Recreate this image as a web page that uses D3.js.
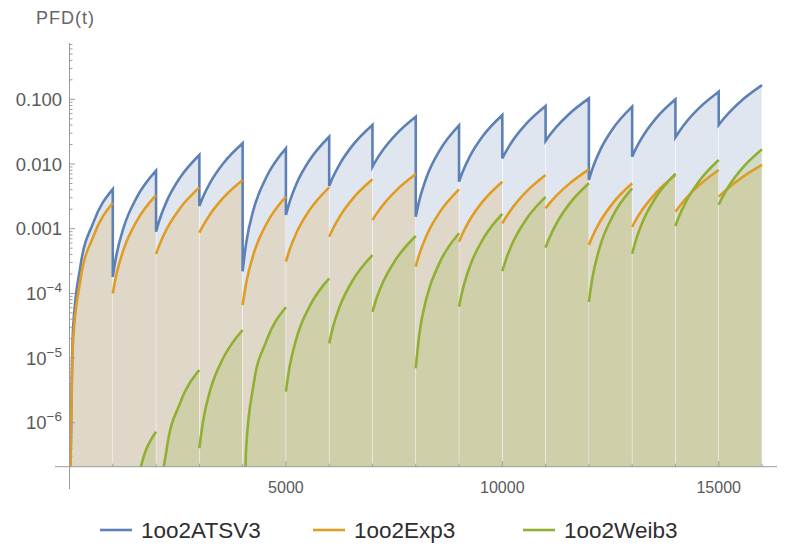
<!DOCTYPE html>
<html>
<head>
<meta charset="utf-8">
<script src="https://cdn.jsdelivr.net/npm/d3@7"></script>
<style>
  html, body { margin: 0; padding: 0; background: #ffffff; }
  svg { display: block; font-family: "Liberation Sans", Arial, Helvetica, sans-serif; }
</style>
</head>
<body>
<svg id="chart" width="792" height="555"></svg>
<script>
// Proof-test interval (hours) and the start of each interval
const testInterval = 1000;
const intervalStarts = [0, 1000, 2000, 3000, 4000, 5000, 6000, 7000, 8000,
                        9000, 10000, 11000, 12000, 13000, 14000, 15000];
// Hours into each interval at which PFD(t) is tabulated
const hoursIntoInterval = [0, 80, 250, 550, 1000];

// PFD(t) per interval, one row per interval, one value per tabulated hour
const atsv3 = [
  [1e-8,    2.72e-5, 2.59e-4, 1.243e-3, 0.0041],
  [1.8e-4,  3.78e-4, 1.042e-3, 3.016e-3, 0.0079],
  [9.0e-4,  1.369e-3, 2.690e-3, 6.101e-3, 0.0138],
  [2.24e-3, 3.037e-3, 5.132e-3, 0.01016, 0.0209],
  [2.2e-4,  5.87e-4, 1.953e-3, 6.31e-3, 0.0175],
  [1.63e-3, 2.514e-3, 5.027e-3, 0.01156, 0.0264],
  [4.57e-3, 6.117e-3, 0.01015, 0.01976, 0.0401],
  [9.08e-3, 0.01128, 0.01676, 0.02905, 0.0538],
  [1.53e-3, 2.692e-3, 6.245e-3, 0.01611, 0.0395],
  [5.33e-3, 7.448e-3, 0.01312, 0.02703, 0.0572],
  [0.01225, 0.01544, 0.02345, 0.04166, 0.0787],
  [0.0227,  0.02701, 0.03741, 0.05990, 0.1035],
  [5.66e-3, 8.354e-3, 0.01581, 0.03474, 0.0769],
  [0.013,   0.01695, 0.02708, 0.05073, 0.100],
  [0.0258,  0.03123, 0.04450, 0.07363, 0.131],
  [0.0401,  0.04701, 0.06353, 0.09872, 0.166]
];

const exp3 = [
  [1e-8,    1.674e-5, 1.581e-4, 7.587e-4, 0.0025],
  [1.0e-4,  1.903e-4, 4.779e-4, 1.303e-3, 0.0033],
  [4.06e-4, 5.673e-4, 9.998e-4, 2.060e-3, 0.00436],
  [8.67e-4, 1.096e-3, 1.672e-3, 2.984e-3, 0.00566],
  [6.6e-5,  1.426e-4, 4.023e-4, 1.182e-3, 0.00312],
  [3.09e-4, 4.603e-4, 8.816e-4, 1.956e-3, 0.00436],
  [7.5e-4,  9.789e-4, 1.567e-3, 2.939e-3, 0.0058],
  [1.36e-3, 1.650e-3, 2.360e-3, 3.920e-3, 0.0070],
  [2.6e-4,  3.973e-4, 7.853e-4, 1.789e-3, 0.00406],
  [6.3e-4,  8.371e-4, 1.375e-3, 2.647e-3, 0.00533],
  [1.21e-3, 1.488e-3, 2.176e-3, 3.706e-3, 0.00676],
  [2.07e-3, 2.414e-3, 3.234e-3, 4.973e-3, 0.00828],
  [5.6e-4,  7.532e-4, 1.259e-3, 2.466e-3, 0.00503],
  [1.07e-3, 1.345e-3, 2.033e-3, 3.593e-3, 0.00676],
  [1.83e-3, 2.166e-3, 2.975e-3, 4.714e-3, 0.00807],
  [3.12e-3, 3.511e-3, 4.417e-3, 6.271e-3, 0.00966]
];

const weib3 = [
  [1e-12,   1e-11,   1e-10,   1.5e-9,   1.5e-8],
  [1e-11,   1e-10,   1e-9,    1.0e-7,   7.3e-7],
  [1e-11,   4.19e-8, 4.09e-7, 1.98e-6,  6.55e-6],
  [4.04e-7, 1.004e-6, 3.171e-6, 9.952e-6, 2.72e-5],
  [1e-10,   3.9e-7,  3.81e-6, 1.845e-5, 6.1e-5],
  [3.03e-6, 7.01e-6, 2.093e-5, 6.361e-5, 1.71e-4],
  [1.69e-5, 2.875e-5, 6.432e-5, 1.616e-4, 3.9e-4],
  [5.2e-5,  7.839e-5, 1.524e-4, 3.425e-4, 7.7e-4],
  [6.95e-6, 2.263e-5, 8.586e-5, 2.966e-4, 8.5e-4],
  [6.2e-5,  1.109e-4, 2.619e-4, 6.840e-4, 1.69e-3],
  [2.2e-4,  3.276e-4, 6.272e-4, 1.391e-3, 3.1e-3],
  [5.1e-4,  6.996e-4, 1.202e-3, 2.418e-3, 5.03e-3],
  [7.4e-5,  1.716e-4, 5.132e-4, 1.561e-3, 4.2e-3],
  [4.1e-4,  6.436e-4, 1.314e-3, 3.075e-3, 7.1e-3],
  [1.1e-3,  1.528e-3, 2.671e-3, 5.462e-3, 0.0115],
  [2.35e-3, 3.025e-3, 4.741e-3, 8.708e-3, 0.0169]
];

const seriesNames = ["1oo2ATSV3", "1oo2Exp3", "1oo2Weib3"];
const seriesColors = ["#5e81b5", "#e19c24", "#8fb032"];

// Axis ticks
const xTickValues = [5000, 10000, 15000];
const xTickLabels = ["5000", "10000", "15000"];
const yTickValues = [0.1, 0.01, 0.001, 1e-4, 1e-5, 1e-6];
const yTickLabels = ["0.100", "0.010", "0.001", "10^-4", "10^-5", "10^-6"];

// ---- layout ----
const svg = d3.select("#chart");
const plotTop = 43, plotBottom = 466.7, plotRight = 777;

const x = d3.scaleLinear().domain([0, 16000]).range([69.5, 762]);
const y = d3.scaleLog().domain([1e-6, 0.1]).range([422.8, 99.3]);
const x0 = x(0);

svg.append("defs").append("clipPath").attr("id", "plotClip")
  .append("rect")
  .attr("x", x0).attr("y", plotTop)
  .attr("width", plotRight - x0).attr("height", plotBottom - plotTop);

const plot = svg.append("g").attr("clip-path", "url(#plotClip)");

// points of one interval as [t, value]
function intervalPoints(rows, k) {
  return hoursIntoInterval.map((h, i) => [intervalStarts[k] + h, rows[k][i]]);
}

const seriesRows = [atsv3, exp3, weib3];

// Filled areas down to the axis, one piece per interval (hairline gap at each test)
const gap = 0.3;
seriesRows.forEach((rows, s) => {
  const g = plot.append("g");
  rows.forEach((row, k) => {
    const pts = intervalPoints(rows, k);
    const n = pts.length;
    const area = d3.area()
      .x((d, i) => x(d[0]) + (i === 0 ? gap : 0) - (i === n - 1 ? gap : 0))
      .y0(plotBottom)
      .y1(d => y(d[1]))
      .curve(d3.curveMonotoneX);
    g.append("path")
      .attr("d", area(pts))
      .attr("fill", seriesColors[s])
      .attr("fill-opacity", 0.2)
      .attr("stroke", "none");
  });
});

// Curves
const line = d3.line()
  .x(d => x(d[0]))
  .y(d => y(d[1]))
  .curve(d3.curveMonotoneX);

seriesRows.forEach((rows, s) => {
  if (s === 0) {
    // ATSV3 drawn as one continuous trace including the drops at each test
    let d = "";
    rows.forEach((row, k) => {
      let piece = line(intervalPoints(rows, k));
      if (k > 0) piece = "L" + piece.slice(1);
      d += piece;
    });
    plot.append("path")
      .attr("d", d)
      .attr("fill", "none")
      .attr("stroke", seriesColors[s])
      .attr("stroke-width", 2.6)
      .attr("stroke-linejoin", "miter");
  } else {
    rows.forEach((row, k) => {
      plot.append("path")
        .attr("d", line(intervalPoints(rows, k)))
        .attr("fill", "none")
        .attr("stroke", seriesColors[s])
        .attr("stroke-width", 2.6);
    });
  }
});

// ---- axes ----
const axisColor = "#9a9a9a";
const labelColor = "#5a5a5a";
const axes = svg.append("g");

// y axis line
axes.append("line")
  .attr("x1", x0).attr("x2", x0)
  .attr("y1", plotTop).attr("y2", 489)
  .attr("stroke", axisColor).attr("stroke-width", 1);

// x axis line
axes.append("line")
  .attr("x1", 55).attr("x2", plotRight)
  .attr("y1", plotBottom).attr("y2", plotBottom)
  .attr("stroke", axisColor).attr("stroke-width", 1);

// y minor + major ticks
const yMin = y.invert(plotBottom), yMax = y.invert(plotTop);
const minorY = [];
for (let e = -7; e <= 0; e++) {
  for (let m = 2; m <= 9; m++) {
    const v = m * Math.pow(10, e);
    if (v > yMin && v < yMax) minorY.push(v);
  }
}
axes.selectAll(".ytick-minor").data(minorY).join("line")
  .attr("x1", x0).attr("x2", x0 + 3)
  .attr("y1", d => y(d)).attr("y2", d => y(d))
  .attr("stroke", axisColor).attr("stroke-width", 1);
axes.selectAll(".ytick-major").data(yTickValues).join("line")
  .attr("x1", x0).attr("x2", x0 + 5.5)
  .attr("y1", d => y(d)).attr("y2", d => y(d))
  .attr("stroke", axisColor).attr("stroke-width", 1);

// y tick labels
yTickValues.forEach((v, i) => {
  const lab = yTickLabels[i];
  const t = axes.append("text")
    .attr("x", 62).attr("y", y(v) + 6.5)
    .attr("text-anchor", "end")
    .attr("font-size", 18.5)
    .attr("fill", labelColor);
  if (lab.indexOf("^") >= 0) {
    const parts = lab.split("^");
    t.append("tspan").text(parts[0]);
    t.append("tspan").attr("dy", -8).attr("font-size", 13.5)
      .text(parts[1].replace("-", "\u2212"));
  } else {
    t.text(lab);
  }
});

// x ticks: minor every interval, major at labelled values
const minorX = d3.range(1000, 16001, 1000).filter(v => xTickValues.indexOf(v) < 0);
axes.selectAll(".xtick-minor").data(minorX).join("line")
  .attr("x1", d => x(d)).attr("x2", d => x(d))
  .attr("y1", plotBottom).attr("y2", plotBottom - 3)
  .attr("stroke", axisColor).attr("stroke-width", 1);
axes.selectAll(".xtick-major").data(xTickValues).join("line")
  .attr("x1", d => x(d)).attr("x2", d => x(d))
  .attr("y1", plotBottom).attr("y2", plotBottom - 5.5)
  .attr("stroke", axisColor).attr("stroke-width", 1);
axes.selectAll(".xlabel").data(xTickValues).join("text")
  .attr("x", d => x(d)).attr("y", 493)
  .attr("text-anchor", "middle")
  .attr("font-size", 16)
  .attr("fill", labelColor)
  .text((d, i) => xTickLabels[i]);

// axis title
svg.append("text")
  .attr("x", 36).attr("y", 24)
  .attr("font-size", 18)
  .attr("letter-spacing", 1)
  .attr("fill", "#666666")
  .text("PFD(t)");

// ---- legend ----
const legendY = 530;
const legendX = [100, 313, 523];
const legend = svg.append("g");
seriesNames.forEach((name, i) => {
  legend.append("line")
    .attr("x1", legendX[i]).attr("x2", legendX[i] + 32)
    .attr("y1", legendY).attr("y2", legendY)
    .attr("stroke", seriesColors[i]).attr("stroke-width", 2.6);
  legend.append("text")
    .attr("x", legendX[i] + 41).attr("y", legendY + 8)
    .attr("font-size", 22.5)
    .attr("fill", "#2e2e2e")
    .text(name);
});
</script>
</body>
</html>
